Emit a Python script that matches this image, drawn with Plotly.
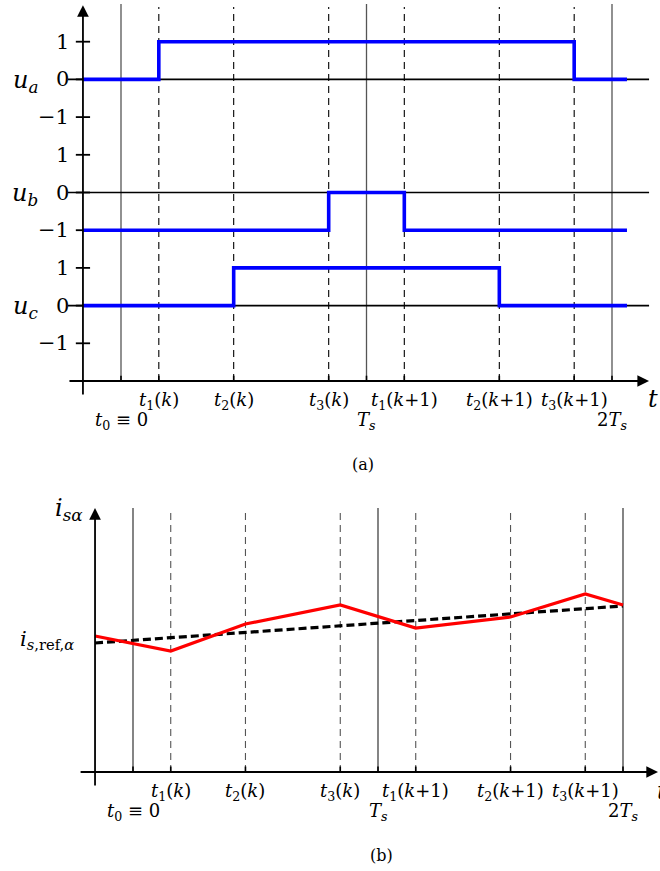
import plotly.graph_objects as go

# ---------------- data ----------------
# switching instants (in units of Ts)
T_START = -0.155
T_END = 2.061
t_solid = [0.0, 1.0, 2.0]                       # t0, Ts, 2Ts
t_dashed = [0.154, 0.459, 0.846, 1.154, 1.541, 1.846]  # t1(k) t2(k) t3(k) t1(k+1) t2(k+1) t3(k+1)

ua_t = [T_START, 0.154, 1.846, T_END]
ua_v = [0, 1, 0, 0]
ub_t = [T_START, 0.846, 1.154, T_END]
ub_v = [-1, 0, -1, -1]
uc_t = [T_START, 0.459, 1.541, T_END]
uc_v = [0, 1, 0, 0]
offsets = {"a": 8, "b": 5, "c": 2}

is_t = [T_START, 0.154, 0.459, 0.846, 1.154, 1.541, 1.846, 2.0]
is_v = [13.6, 12.1, 14.8, 16.7, 14.4, 15.5, 17.8, 16.7]
ref_t = [T_START, 2.0]
ref_v = [12.9, 16.6]

row1_labels = ["<i>t</i><sub>1</sub>(<i>k</i>)", "<i>t</i><sub>2</sub>(<i>k</i>)", "<i>t</i><sub>3</sub>(<i>k</i>)",
               "<i>t</i><sub>1</sub>(<i>k</i>+1)", "<i>t</i><sub>2</sub>(<i>k</i>+1)", "<i>t</i><sub>3</sub>(<i>k</i>+1)"]
row2_labels = ["<i>t</i><sub>0</sub> ≡ 0", "<i>T</i><sub><i>s</i></sub>", "2<i>T</i><sub><i>s</i></sub>"]
ytick_text = ["−1", "0", "1"]

FONT = "DejaVu Serif"
W, H = 660, 871

fig = go.Figure()

# ---------------- top panel (a) ----------------
for key, tt, vv in [("a", ua_t, ua_v), ("b", ub_t, ub_v), ("c", uc_t, uc_v)]:
    fig.add_trace(go.Scatter(x=tt, y=[v + offsets[key] for v in vv], mode="lines",
                             line=dict(color="#0000ff", width=3.6, shape="hv"),
                             xaxis="x", yaxis="y", showlegend=False, hoverinfo="skip"))

# ---------------- bottom panel (b) ----------------
fig.add_trace(go.Scatter(x=ref_t, y=ref_v, mode="lines",
                         line=dict(color="black", width=3.2, dash="8px,4px"),
                         xaxis="x2", yaxis="y2", showlegend=False, hoverinfo="skip"))
fig.add_trace(go.Scatter(x=is_t, y=is_v, mode="lines",
                         line=dict(color="#ff0000", width=3.2),
                         xaxis="x2", yaxis="y2", showlegend=False, hoverinfo="skip"))

shapes = []
ann = []
TXT = dict(family=FONT, color="black")

# top geometry
TOP_Y_TOP_SOLID = 10.0
TOP_Y_TOP_DASH = 9.92
for t in t_solid:
    shapes.append(dict(type="line", xref="x", yref="y", x0=t, x1=t, y0=0, y1=TOP_Y_TOP_SOLID,
                       line=dict(color="#555555", width=1.3), layer="below"))
for t in t_dashed:
    shapes.append(dict(type="line", xref="x", yref="y", x0=t, x1=t, y0=0, y1=TOP_Y_TOP_DASH,
                       line=dict(color="black", width=1.1, dash="7px,5px"), layer="below"))
for t in t_solid + t_dashed:
    shapes.append(dict(type="line", xref="x", yref="y", x0=t, x1=t, y0=0, y1=0.14,
                       line=dict(color="black", width=1.6), layer="below"))
for k, off in offsets.items():
    shapes.append(dict(type="line", xref="x", yref="y", x0=-0.216, x1=2.151, y0=off, y1=off,
                       line=dict(color="black", width=1.6), layer="below"))
    for d in (-1, 0, 1):
        shapes.append(dict(type="line", xref="x", yref="y", x0=-0.184, x1=-0.126, y0=off + d, y1=off + d,
                           line=dict(color="black", width=1.8), layer="below"))
        ann.append(dict(xref="x", yref="y", x=-0.205, y=off + d, text=ytick_text[d + 1], showarrow=False,
                        xanchor="right", yanchor="middle", font=dict(size=21, **TXT)))
    ann.append(dict(xref="x", yref="y", x=-0.39, y=off, text=f"<i>u</i><sub><i>{k}</i></sub>", showarrow=False,
                    xanchor="center", yanchor="middle", yshift=-2, font=dict(size=24, **TXT)))

# top axes with arrows
ann.append(dict(xref="x", yref="y", axref="x", ayref="y", x=2.151, y=0, ax=-0.216, ay=0, text="",
                showarrow=True, arrowhead=2, arrowsize=1.3, arrowwidth=1.8, arrowcolor="black"))
ann.append(dict(xref="x", yref="y", axref="x", ayref="y", x=T_START, y=9.97, ax=T_START, ay=-0.4, text="",
                showarrow=True, arrowhead=2, arrowsize=1.3, arrowwidth=1.8, arrowcolor="black"))

LS = 18
for t, lab in zip(t_dashed, row1_labels):
    ann.append(dict(xref="x", yref="y", x=t, y=0, yshift=-20, text=lab, showarrow=False,
                    xanchor="center", yanchor="middle", font=dict(size=LS, **TXT)))
for t, lab in zip(t_solid, row2_labels):
    ann.append(dict(xref="x", yref="y", x=t, y=0, yshift=-40, text=lab, showarrow=False,
                    xanchor="center", yanchor="middle", font=dict(size=LS, **TXT)))
ann.append(dict(xref="x", yref="y", x=2.151, y=0, xshift=-3, yshift=-18, text="<i>t</i>", showarrow=False,
                xanchor="left", yanchor="middle", font=dict(size=24, **TXT)))
ann.append(dict(xref="paper", yref="paper", x=363 / W, y=1 - 465 / H, text="(a)", showarrow=False,
                xanchor="center", yanchor="middle", font=dict(size=16, **TXT)))

# bottom geometry
BOT_TOP = 26.4
for t in t_solid:
    shapes.append(dict(type="line", xref="x2", yref="y2", x0=t, x1=t, y0=0, y1=BOT_TOP,
                       line=dict(color="#333333", width=1.2), layer="below"))
for t in t_dashed:
    shapes.append(dict(type="line", xref="x2", yref="y2", x0=t, x1=t, y0=0, y1=BOT_TOP - 0.1,
                       line=dict(color="#555555", width=1.1, dash="7px,5px"), layer="below"))
for t in t_solid + t_dashed:
    shapes.append(dict(type="line", xref="x2", yref="y2", x0=t, x1=t, y0=0, y1=0.55,
                       line=dict(color="black", width=1.6), layer="below"))
ann.append(dict(xref="x2", yref="y2", axref="x2", ayref="y2", x=2.143, y=0, ax=-0.22, ay=0, text="",
                showarrow=True, arrowhead=2, arrowsize=1.3, arrowwidth=1.8, arrowcolor="black"))
ann.append(dict(xref="x2", yref="y2", axref="x2", ayref="y2", x=T_START, y=26.4, ax=T_START, ay=-1.5, text="",
                showarrow=True, arrowhead=2, arrowsize=1.3, arrowwidth=1.8, arrowcolor="black"))
for t, lab in zip(t_dashed, row1_labels):
    ann.append(dict(xref="x2", yref="y2", x=t, y=0, yshift=-20, text=lab, showarrow=False,
                    xanchor="center", yanchor="middle", font=dict(size=LS, **TXT)))
for t, lab in zip(t_solid, row2_labels):
    ann.append(dict(xref="x2", yref="y2", x=t, y=0, yshift=-40, text=lab, showarrow=False,
                    xanchor="center", yanchor="middle", font=dict(size=LS, **TXT)))
ann.append(dict(xref="x2", yref="y2", x=2.143, y=0, xshift=-3, yshift=-19, text="<i>t</i>", showarrow=False,
                xanchor="left", yanchor="middle", font=dict(size=24, **TXT)))
ann.append(dict(xref="paper", yref="paper", x=69 / W, y=1 - 510 / H, text="<i>i</i><sub><i>sα</i></sub>",
                showarrow=False, xanchor="center", yanchor="middle", font=dict(size=24, **TXT)))
ann.append(dict(xref="paper", yref="paper", x=47 / W, y=1 - 640 / H, text="<i>i</i><sub><i>s</i>,ref,<i>α</i></sub>",
                showarrow=False, xanchor="center", yanchor="middle", font=dict(size=21, **TXT)))
ann.append(dict(xref="paper", yref="paper", x=381 / W, y=1 - 855 / H, text="(b)", showarrow=False,
                xanchor="center", yanchor="middle", font=dict(size=16, **TXT)))

ax_common = dict(visible=False, showgrid=False, zeroline=False, domain=[0, 1])
fig.update_layout(
    width=W, height=H, margin=dict(l=0, r=0, t=0, b=0, pad=0),
    paper_bgcolor="white", plot_bgcolor="white",
    font=dict(family=FONT),
    xaxis=dict(range=[-121 / 245.5, 539 / 245.5], **ax_common),
    yaxis=dict(range=[(381 - 871) / 37.7, 381 / 37.7], **ax_common),
    xaxis2=dict(range=[-133 / 245, 527 / 245], overlaying="x", anchor="y2", **ax_common),
    yaxis2=dict(range=[(772 - 871) / 10, 77.2], overlaying="y", anchor="x2", **ax_common),
    shapes=shapes, annotations=ann, showlegend=False,
)

fig.write_html("out.html")
